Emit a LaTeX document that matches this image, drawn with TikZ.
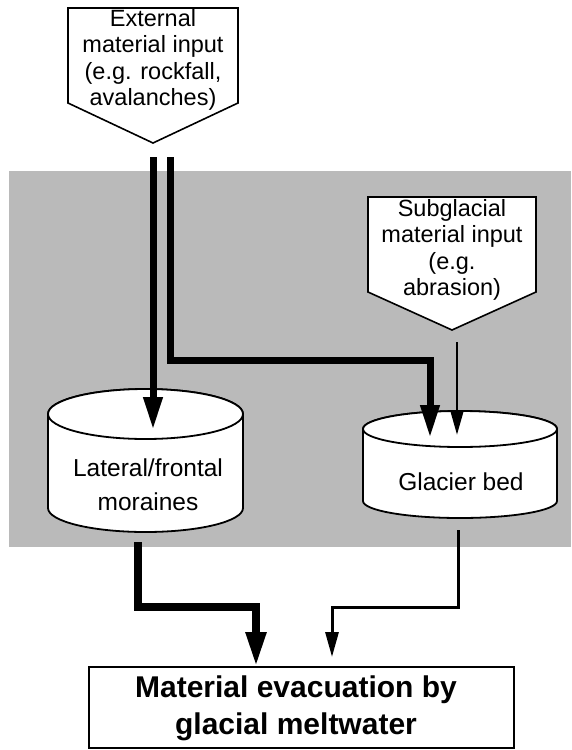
\documentclass[tikz,border=0pt]{standalone}
\usepackage{fontspec}
\setmainfont{Liberation Sans}
\usetikzlibrary{arrows.meta,calc}
\begin{document}
\begin{tikzpicture}[x=1pt,y=-1pt,
  lbl/.style={align=center,font=\fontsize{23.5}{26.5}\selectfont,inner sep=0pt},
  cyllbl/.style={align=center,font=\fontsize{24.5}{34}\selectfont,inner sep=0pt},
  pent/.style={draw,line width=1.6pt,fill=white,line join=miter},
  cyl/.style={draw,line width=1.8pt,fill=white},
  bigflow/.style={line width=7pt,-{Triangle[width=18pt,length=33pt]}},
  smallflow/.style={line width=2.8pt,-{Triangle[width=12pt,length=23pt]}},
  outbox/.style={draw,line width=1.5pt,minimum width=425pt,minimum height=81pt,inner sep=0pt}
]
\useasboundingbox (0,0) rectangle (571,750);
% shaded glacier area
\fill[black!27] (9,171) rectangle (571,547);

% external input pentagon
\draw[pent] (68,8) -- (238,8) -- (238,103) -- (153,143) -- (68,103) -- cycle;
\node[lbl] (ext) at (153,60) {External\\material input\\(e.g. rockfall,\\avalanches)};
\coordinate (extOutA) at (153,157);
\coordinate (extOutB) at (170,157);

% subglacial input pentagon
\draw[pent] (368,197) -- (536,197) -- (536,292) -- (452,330) -- (368,292) -- cycle;
\node[lbl] (sub) at (452,250) {Subglacial\\material input\\(e.g.\\abrasion)};
\coordinate (subOut) at (457,342);

% lateral/frontal moraines cylinder
\filldraw[cyl] (48,414) -- (48,508) arc[start angle=180,end angle=0,x radius=97.5,y radius=24]
  -- (243,414) arc[start angle=0,end angle=-180,x radius=97.5,y radius=25] -- cycle;
\draw[cyl] (145.5,414) ellipse[x radius=97.5,y radius=25];
\node[cyllbl] (mor) at (148,485) {Lateral/frontal\\moraines};
\coordinate (morIn) at (153,430);
\coordinate (morOut) at (138,542);

% glacier bed cylinder
\filldraw[cyl] (363,429) -- (363,501) arc[start angle=180,end angle=0,x radius=97,y radius=17]
  -- (557,429) arc[start angle=0,end angle=-180,x radius=97,y radius=18] -- cycle;
\draw[cyl] (460,429) ellipse[x radius=97,y radius=18];
\node[cyllbl] (bed) at (461,482) {Glacier bed};
\coordinate (bedInA) at (430,438);
\coordinate (bedInB) at (457,435);
\coordinate (bedOut) at (458,530);

% output box
\node[outbox] (evac) at (301.5,707.5) {};
\node[align=center,font=\bfseries\fontsize{30}{37}\selectfont,inner sep=0pt] (evactxt) at (296,708) {Material evacuation by\\glacial meltwater};
\coordinate (evacInA) at (256,667);
\coordinate (evacInB) at (332,657);

% connectors
\draw[bigflow] (extOutA) -- (morIn);
\draw[bigflow] (extOutB) -- (170,360) -| (bedInA);
\draw[smallflow] (subOut) -- (bedInB);
\draw[line width=8pt,-{Triangle[width=19pt,length=35pt]}] (morOut) -- (138,607) -| (evacInA);
\draw[line width=3pt,-{Triangle[width=13pt,length=25pt]}] (bedOut) -- (458,607) -| (evacInB);
\end{tikzpicture}
\end{document}
